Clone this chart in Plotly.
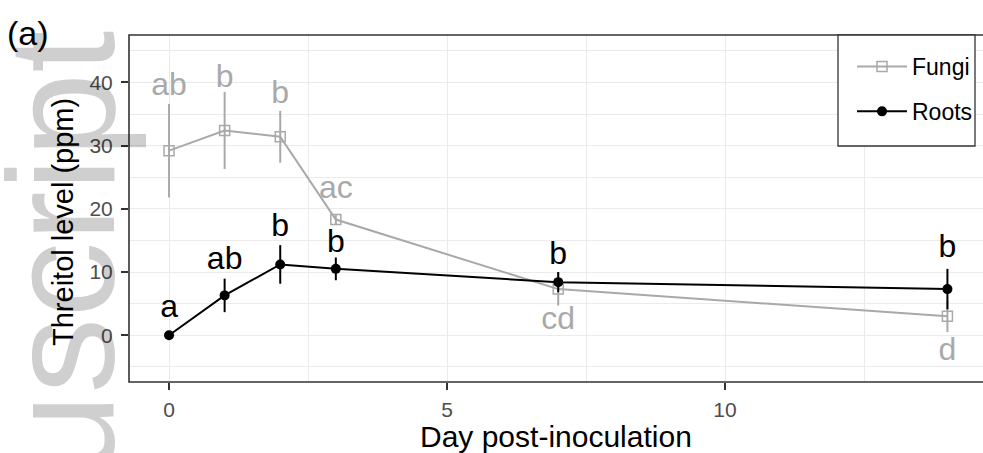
import plotly.graph_objects as go

# ---- data ----
days = [0, 1, 2, 3, 7, 14]

fungi_mean = [29.2, 32.4, 31.4, 18.3, 7.3, 3.0]
fungi_se = [7.4, 6.1, 4.1, 0.7, 2.6, 2.5]
fungi_letters = ["ab", "b", "b", "ac", "cd", "d"]
fungi_label_y = [39.2, 40.6, 38.0, 23.0, 2.3, -2.7]

roots_mean = [0.0, 6.3, 11.2, 10.5, 8.4, 7.3]
roots_se = [0.0, 2.65, 3.05, 1.8, 1.6, 3.2]
roots_letters = ["a", "ab", "b", "b", "b", "b"]
roots_label_y = [4.2, 11.8, 17.0, 14.5, 12.6, 13.6]

x_ticks = [0, 5, 10]
y_ticks = [0, 10, 20, 30, 40]

FONT = "Liberation Sans, Arial, sans-serif"
GRAY = "#A9A9A9"
BLACK = "#000000"

W, H = 983, 453
ML, MR, MT, MB = 129, 0, 35, 71
PW, PH = W - ML - MR, H - MT - MB


def px(x):
    return (x - ML) / PW


def py(y):
    return (H - MB - y) / PH


fig = go.Figure()

fig.add_trace(go.Scatter(
    x=days, y=fungi_mean, name="Fungi", mode="lines+markers",
    line=dict(color=GRAY, width=2),
    marker=dict(symbol="square-open", size=10, color=GRAY, line=dict(width=1.5, color=GRAY)),
    error_y=dict(type="data", array=fungi_se, visible=True, color=GRAY, thickness=2, width=0),
    legendgroup="f",
))
fig.add_trace(go.Scatter(
    x=days, y=roots_mean, name="Roots", mode="lines+markers",
    line=dict(color=BLACK, width=2),
    marker=dict(symbol="circle", size=10, color=BLACK),
    error_y=dict(type="data", array=roots_se, visible=True, color=BLACK, thickness=2, width=0),
    legendgroup="r",
))
fig.add_trace(go.Scatter(
    x=days, y=fungi_label_y, text=fungi_letters, mode="text",
    textposition="middle center", textfont=dict(family=FONT, size=32, color=GRAY),
    showlegend=False, hoverinfo="skip", cliponaxis=False,
))
fig.add_trace(go.Scatter(
    x=days, y=roots_label_y, text=roots_letters, mode="text",
    textposition="middle center", textfont=dict(family=FONT, size=32, color=BLACK),
    showlegend=False, hoverinfo="skip", cliponaxis=False,
))

axis_common = dict(
    showgrid=True, gridcolor="#EBEBEB", gridwidth=1.3, zeroline=False,
    ticks="outside", ticklen=7, tickwidth=1.8, tickcolor="#333333",
    tickfont=dict(family=FONT, size=21, color="#4D4D4D"),
    showline=False,
)

fig.update_xaxes(
    range=[-0.72, 14.64], tickvals=x_ticks, **axis_common,
    minor=dict(tickvals=[2.5, 7.5, 12.5], showgrid=True, gridcolor="#EBEBEB", gridwidth=0.8),
    ticklabelstandoff=2,
)
fig.update_yaxes(
    range=[-7.4, 47.5], tickvals=y_ticks, **axis_common,
    minor=dict(tickvals=[-5, 5, 15, 25, 35, 45], showgrid=True, gridcolor="#EBEBEB", gridwidth=0.8),
    ticklabelstandoff=4,
)

# panel border (extends past the right edge like the reference)
fig.add_shape(type="rect", xref="x domain", yref="y domain", x0=0, x1=1.01, y0=0, y1=1,
              line=dict(color="#333333", width=1.6), layer="above")
# legend frame
fig.add_shape(type="rect", xref="paper", yref="paper", x0=px(838), x1=px(975), y0=py(146), y1=py(35),
              line=dict(color="#333333", width=1.3), fillcolor="white", layer="above")

# watermark
fig.add_annotation(text="Manuscript", xref="paper", yref="paper", x=px(61), y=py(403),
                   xanchor="center", yanchor="middle", textangle=-90, showarrow=False,
                   font=dict(family=FONT, size=152, color="rgba(0,0,0,0.19)"))
# axis titles
fig.add_annotation(text="Threitol level (ppm)", xref="paper", yref="paper", x=px(63), y=py(222),
                   xanchor="center", yanchor="middle", textangle=-90, showarrow=False,
                   font=dict(family=FONT, size=29, color="black"))
fig.add_annotation(text="Day post-inoculation", xref="paper", yref="paper", x=0.5, y=py(437),
                   xanchor="center", yanchor="middle", showarrow=False,
                   font=dict(family=FONT, size=30, color="black"))
# panel tag
fig.add_annotation(text="(a)", xref="paper", yref="paper", x=px(28), y=py(33),
                   xanchor="center", yanchor="middle", showarrow=False,
                   font=dict(family=FONT, size=34, color="black"))

fig.update_layout(
    width=W, height=H,
    margin=dict(l=ML, r=MR, t=MT, b=MB),
    paper_bgcolor="white", plot_bgcolor="white",
    font=dict(family=FONT),
    showlegend=True,
    legend=dict(x=px(852), y=py(45), xanchor="left", yanchor="top",
                bgcolor="rgba(0,0,0,0)", borderwidth=0,
                font=dict(family=FONT, size=23, color="black"),
                tracegroupgap=12, itemwidth=50),
)

fig.write_html("out.html", post_script="document.body.style.margin='0px';",
               config={"displayModeBar": False})
